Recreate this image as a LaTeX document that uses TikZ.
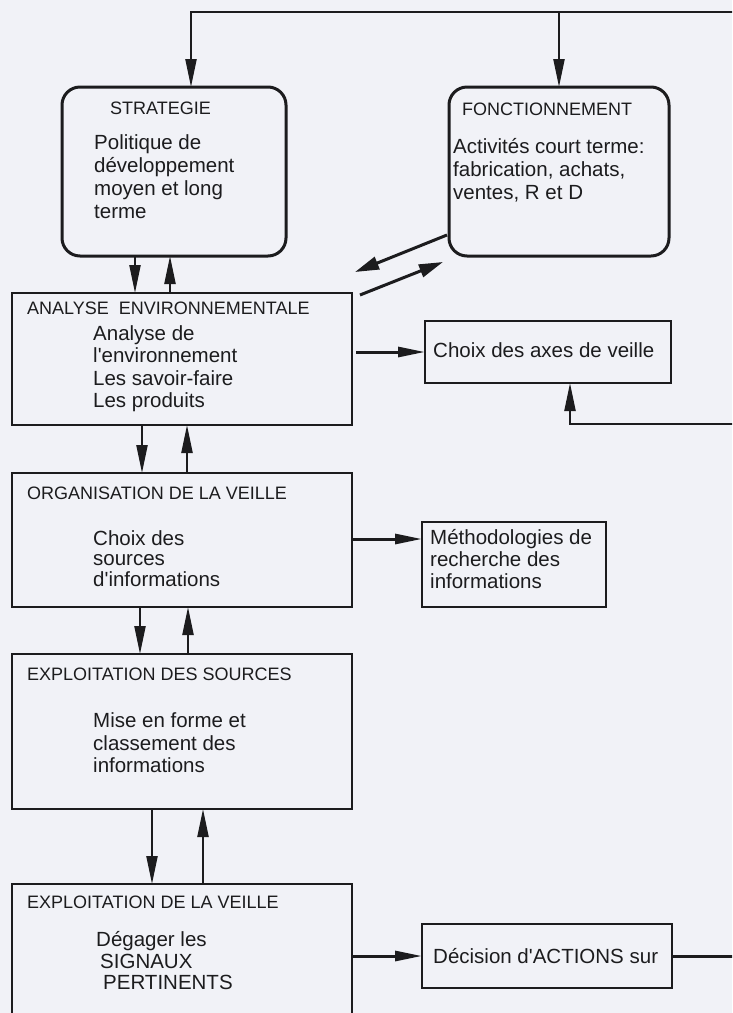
\documentclass[tikz,border=0pt]{standalone}
\usepackage{fontspec}
\setmainfont{Liberation Sans}[Ligatures=TeXOff]
\usetikzlibrary{arrows.meta,calc}
\definecolor{ink}{RGB}{28,28,30}
\definecolor{paper}{RGB}{241,242,247}
\begin{document}
\begin{tikzpicture}[x=1pt,y=-1pt,
  box/.style={draw=ink,line width=2.2pt,inner sep=0pt,outer sep=0pt,rectangle},
  rbox/.style={box,line width=3pt,rounded corners=18pt},
  hbox/.style={box,line width=2.7pt},
  ttl/.style={anchor=base west,inner sep=0pt,text=ink,font=\fontsize{18}{21}\selectfont},
  txt/.style={anchor=base west,inner sep=0pt,text=ink,font=\fontsize{20.5}{23}\selectfont},
  ln/.style={draw=ink,line width=2.2pt},
  arr/.style={ln,-{Triangle[length=28pt,width=11pt]}},
  harr/.style={draw=ink,line width=3pt,-{Triangle[length=27pt,width=10pt]}},
  darr/.style={draw=ink,line width=3pt,-{Triangle[length=24pt,width=13pt]}}]
\useasboundingbox[fill=paper] (0,0) rectangle (732,1013);
\clip (0,0) rectangle (732,1013);
% boxes
\node[rbox,minimum width=224pt,minimum height=169pt] (strat) at (174,171.5) {};
\node[rbox,minimum width=220pt,minimum height=169pt] (fonc) at (559,171.5) {};
\node[box,minimum width=340pt,minimum height=132pt] (ana) at (182,359) {};
\node[hbox,minimum width=246pt,minimum height=62pt] (axes) at (548,352) {};
\node[box,minimum width=340pt,minimum height=134pt] (org) at (182,540) {};
\node[box,minimum width=184pt,minimum height=85pt] (meth) at (514,564.5) {};
\node[box,minimum width=340pt,minimum height=155pt] (expl) at (182,731.5) {};
\node[box,minimum width=340pt,minimum height=160pt] (veil) at (182,964) {};
\node[hbox,minimum width=250pt,minimum height=64pt] (dec) at (547,956) {};
% texts
\node[ttl] (t1) at (110,114) {STRATEGIE};
\node[txt] (t1a) at (94,149) {Politique de};
\node[txt] (t1b) at (94,172) {développement};
\node[txt] (t1c) at (94,195) {moyen et long};
\node[txt] (t1d) at (94,218) {terme};
\node[ttl] (t2) at (462,115) {FONCTIONNEMENT};
\node[txt] (t2a) at (453,153) {Activités court terme:};
\node[txt] (t2b) at (453,176) {fabrication, achats,};
\node[txt] (t2c) at (453,199) {ventes, R et D};
\node[ttl] (t3) at (27,314) {ANALYSE\ \ ENVIRONNEMENTALE};
\node[txt] (t3a) at (93,340) {Analyse de};
\node[txt] (t3b) at (93,362) {l'environnement};
\node[txt] (t3c) at (93,385) {Les savoir-faire};
\node[txt] (t3d) at (93,407) {Les produits};
\node[txt] (t4) at (433,357) {Choix des axes de veille};
\node[ttl] (t5) at (27,499) {ORGANISATION DE LA VEILLE};
\node[txt] (t5a) at (93,545) {Choix des};
\node[txt] (t5b) at (93,565) {sources};
\node[txt] (t5c) at (93,586) {d'informations};
\node[txt] (t6a) at (430,544) {Méthodologies de};
\node[txt] (t6b) at (430,566) {recherche des};
\node[txt] (t6c) at (430,588) {informations};
\node[ttl] (t7) at (27,680) {EXPLOITATION DES SOURCES};
\node[txt] (t7a) at (93,727) {Mise en forme et};
\node[txt] (t7b) at (93,750) {classement des};
\node[txt] (t7c) at (93,772) {informations};
\node[ttl] (t8) at (27,908) {EXPLOITATION DE LA VEILLE};
\node[txt] (t8a) at (96,946) {Dégager les};
\node[txt] (t8b) at (100,968) {SIGNAUX};
\node[txt] (t8c) at (103,989) {PERTINENTS};
\node[txt] (t9) at (433,963) {Décision d'ACTIONS sur};
% coordinates
\coordinate (tR) at (740,12);
\coordinate (rR) at (740,424);
\coordinate (st) at ($(strat.north)+(17,0)$);
\coordinate (ax) at ($(axes.south)+(22,0)$);
\coordinate (sa1) at ($(strat.south)+(-39,0)$);
\coordinate (sa2) at ($(strat.south)+(-4,0)$);
\coordinate (ao1) at ($(ana.south)+(-40,0)$);
\coordinate (ao2) at ($(ana.south)+(5,0)$);
\coordinate (oe1) at ($(org.south)+(-42,0)$);
\coordinate (oe2) at ($(org.south)+(6,0)$);
\coordinate (ev1) at ($(expl.south)+(-30,0)$);
\coordinate (ev2) at ($(expl.south)+(21,0)$);
\coordinate (mw) at ($(meth.west)+(0,-25.5)$);
\coordinate (d1s) at ($(fonc.south west)+(-2,-21)$);
\coordinate (d1e) at ($(ana.north east)+(3,-21)$);
\coordinate (d2s) at ($(ana.north east)+(8,2)$);
\coordinate (d2e) at ($(fonc.south west)+(-6,6)$);
% connectors
\draw[arr] (tR) -| (st);
\draw[arr] (fonc.north |- tR) -- (fonc.north);
\draw[arr] (sa1) -- (sa1 |- ana.north);
\draw[arr] (sa2 |- ana.north) -- (sa2);
\draw[darr] (d1s) -- (d1e);
\draw[darr] (d2s) -- (d2e);
\draw[harr,shorten <=4pt] (ana.east |- axes.west) -- (axes.west);
\draw[arr] (rR) -| (ax);
\draw[arr] (ao1) -- (ao1 |- org.north);
\draw[arr] (ao2 |- org.north) -- (ao2);
\draw[harr] (org.east |- mw) -- (mw);
\draw[arr] (oe1) -- (oe1 |- expl.north);
\draw[arr] (oe2 |- expl.north) -- (oe2);
\draw[arr] (ev1) -- (ev1 |- veil.north);
\draw[arr] (ev2 |- veil.north) -- (ev2);
\draw[harr] (veil.east |- dec.west) -- (dec.west);
\draw[draw=ink,line width=3pt] (dec.east) -- (dec.east -| tR);
\end{tikzpicture}
\end{document}
